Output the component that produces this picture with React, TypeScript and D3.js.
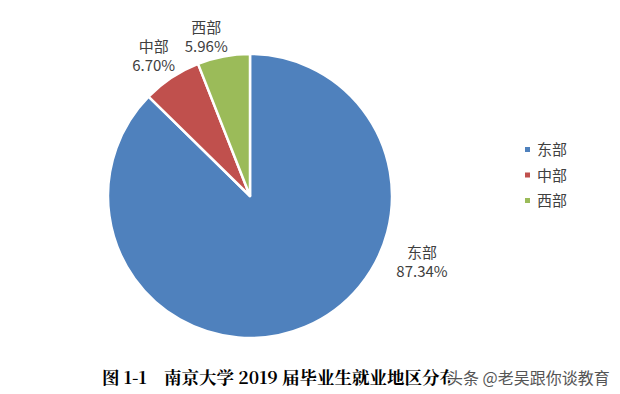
import * as d3 from 'd3';

// region shares (%)
const regions = ['东部', '中部', '西部'];
const shares = [87.34, 6.7, 5.96];
const colors = ['#4F81BD', '#C0504D', '#9BBB59'];
const shareLabels = ['87.34%', '6.70%', '5.96%'];

export default function App() {
  const width = 620;
  const height = 394;
  const cx = 250;
  const cy = 196;
  const r = 142;

  const data = regions.map((name, i) => ({ name, value: shares[i], color: colors[i], label: shareLabels[i] }));

  const pie = d3.pie<any>().value(d => d.value).sort(null);
  const arcs = pie(data);
  const arc = d3.arc<any>().innerRadius(0).outerRadius(r);
  const labelArc = d3.arc<any>().innerRadius(r + 18).outerRadius(r + 18);

  // manual nudges per label to match the original callouts
  const labelOffsets = [
    { dx: 0, dy: 0 },
    { dx: -8, dy: -7 },
    { dx: -14, dy: -2 },
  ];

  const font = '"Microsoft YaHei", "Noto Sans CJK SC", sans-serif';

  return (
    <svg width={width} height={height} style={{ position: 'absolute', left: 0, top: 0, background: '#fff' }}>
      <g transform={`translate(${cx},${cy})`}>
        {arcs.map((a, i) => (
          <path key={i} d={arc(a) as string} fill={a.data.color} stroke="#fff" strokeWidth={2.5} strokeLinejoin="round" />
        ))}
        {arcs.map((a, i) => {
          let [x, y] = labelArc.centroid(a);
          if (i === 0) {
            x = 172;
            y = 66;
          } else {
            x += labelOffsets[i].dx;
            y += labelOffsets[i].dy;
          }
          return (
            <text key={i} x={x} y={y} textAnchor="middle" fontFamily={font} fontSize={15} fill="#404040">
              <tspan x={x} dy={-4}>{a.data.name}</tspan>
              <tspan x={x} dy={19}>{a.data.label}</tspan>
            </text>
          );
        })}
      </g>
      {/* legend */}
      <g transform="translate(525,150)">
        {data.map((d, i) => (
          <g key={i} transform={`translate(0,${i * 25.5})`}>
            <rect x={0} y={-3} width={5} height={5} fill={d.color} />
            <text x={12} y={5} fontFamily={font} fontSize={15} fill="#404040">{d.name}</text>
          </g>
        ))}
      </g>
      {/* caption */}
      <text x={102} y={384} fontFamily='"Noto Serif CJK SC", "Noto Sans CJK SC", serif' fontWeight="bold" fontSize={17.5} fill="#000">
        图 1-1
        <tspan x={164}>南京大学 2019 届毕业生就业地区分布</tspan>
      </text>
      <text x={447} y={384} fontFamily={font} fontSize={16} fill="#555" stroke="#fff" strokeWidth={2} paintOrder="stroke">
        头条 @老吴跟你谈教育
      </text>
    </svg>
  );
}
